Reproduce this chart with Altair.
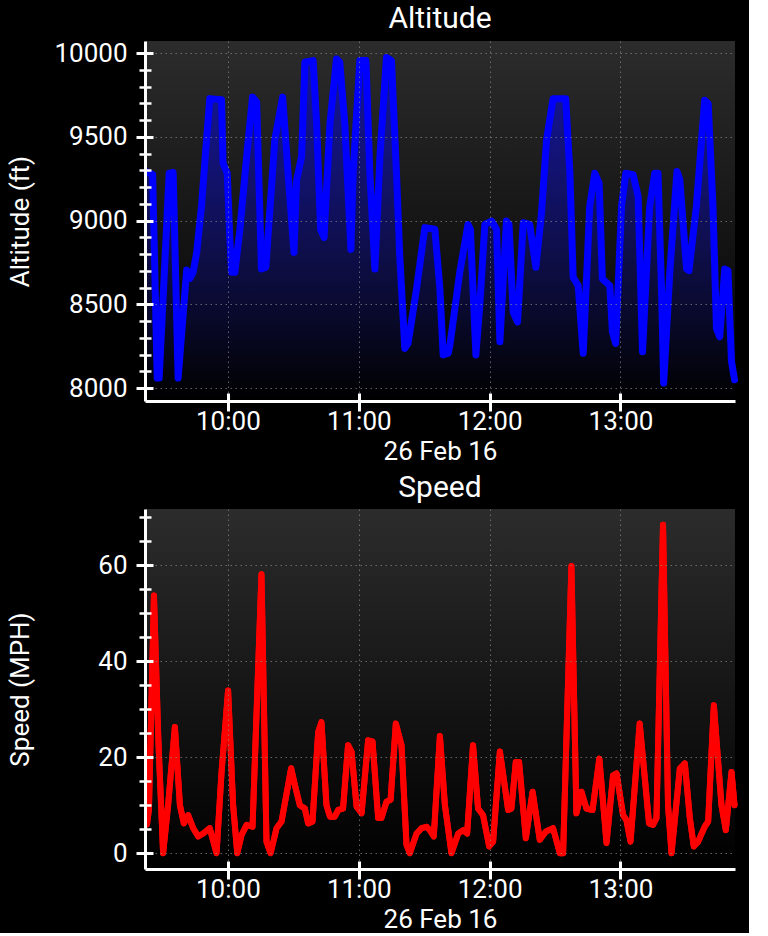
import altair as alt
import pandas as pd

BASE = pd.Timestamp("2016-02-26 10:00:00")

# minutes relative to 10:00 on 26 Feb 2016
ALT_MIN = [-37.0, -34.5, -32.4, -31.5, -26.9, -25.1, -22.8, -18.9, -17.4, -16.0,
           -14.3, -12.1, -9.8, -8.3, -2.9, -2.2, -0.3, 0.9, 1.7, 3.2,
           5.5, 8.6, 11.3, 13.2, 15.4, 17.4, 21.5, 25.1, 27.6, 30.3,
           31.5, 33.8, 35.3, 39.1, 40.7, 42.5, 44.1, 46.8, 49.8, 51.3,
           53.6, 56.4, 57.4, 60.5, 63.3, 65.1, 67.4, 69.7, 72.7, 75.0,
           77.3, 78.8, 81.1, 82.6, 86.5, 90.3, 94.9, 97.2, 98.7, 101.0,
           101.8, 106.3, 110.1, 111.2, 113.7, 115.5, 117.8, 120.9, 123.2, 124.7,
           127.7, 128.9, 130.8, 132.8, 135.4, 138.4, 141.2, 143.8, 146.1, 149.1,
           154.9, 156.8, 158.3, 160.6, 162.9, 165.9, 168.2, 170.2, 171.7, 175.1,
           176.3, 177.8, 180.5, 182.4, 185.8, 188.1, 190.1, 193.4, 195.7, 197.2,
           198.8, 199.8, 202.6, 205.9, 207.2, 210.3, 211.4, 214.8, 218.6, 220.2,
           222.4, 224.0, 225.5, 227.8, 229.3, 230.9, 232.3]
ALT_FT = [9290, 9275, 8060, 8060, 9283, 9287, 8060, 8705, 8655, 8690,
          8810, 9085, 9480, 9728, 9722, 9343, 9283, 8890, 8691, 8691,
          8948, 9382, 9737, 9708, 8711, 8721, 9481, 9737, 9283, 8810,
          9240, 9382, 9945, 9955, 9580, 8948, 8899, 9580, 9965, 9945,
          9580, 8829, 9283, 9955, 9955, 9283, 8711, 9382, 9974, 9955,
          9283, 8790, 8237, 8267, 8593, 8958, 8948, 8593, 8198, 8208,
          8257, 8691, 8977, 8948, 8198, 8494, 8977, 8997, 8948, 8277,
          8997, 8977, 8454, 8395, 8987, 8977, 8721, 9047, 9481, 9728,
          9728, 9283, 8662, 8612, 8208, 9086, 9283, 9224, 8652, 8612,
          8336, 8267, 9086, 9283, 9274, 9145, 8217, 9086, 9283, 9283,
          8593, 8030, 8691, 9293, 9244, 8711, 8701, 9086, 9718, 9698,
          9086, 8356, 8306, 8711, 8701, 8158, 8050]

SPD_MIN = [-37.1, -36.2, -33.9, -31.9, -29.7, -27.4, -24.3, -22.0, -20.2, -18.2,
           -15.9, -13.6, -11.3, -8.3, -5.2, -2.9, 0.1, 2.4, 4.3, 6.3,
           8.6, 11.3, 15.4, 17.7, 19.6, 22.3, 24.6, 29.0, 30.7, 33.0,
           35.3, 36.8, 38.8, 41.4, 42.9, 45.2, 46.8, 49.0, 50.6, 52.8,
           55.1, 56.7, 59.0, 61.3, 64.3, 66.3, 68.9, 70.4, 72.7, 74.6,
           77.0, 79.6, 81.9, 83.4, 86.5, 88.8, 91.1, 92.6, 94.4, 97.2,
           99.5, 102.5, 105.6, 107.9, 109.7, 112.4, 114.7, 117.0, 119.8, 121.6,
           124.7, 128.5, 130.0, 132.0, 133.5, 136.6, 139.7, 143.0, 145.8, 149.1,
           152.2, 153.7, 157.5, 159.8, 162.1, 164.4, 167.2, 170.3, 173.6, 176.6,
           178.2, 181.2, 182.7, 184.6, 188.8, 193.1, 194.9, 196.5, 199.5, 201.8,
           203.4, 207.2, 209.5, 211.8, 213.6, 215.6, 218.6, 220.2, 222.8, 226.3,
           228.3, 230.9, 232.3]
SPD_MPH = [6, 9, 53.7, 23.8, 0, 10, 26.3, 10, 6.2, 7.9,
           5.2, 3.5, 4.1, 5.2, 0, 16.9, 33.9, 10, 0, 3.8,
           5.9, 5.5, 58.1, 2.4, 0, 5.2, 6.6, 17.7, 14.2, 10,
           9.3, 6.2, 6.6, 25.2, 27.3, 10, 7.6, 7.6, 9.0, 9.3,
           22.5, 21.1, 9.7, 8.3, 23.5, 23.3, 7.3, 7.3, 10.7, 11.1,
           27, 22.5, 1.7, 0, 4.1, 5.2, 5.5, 4.8, 3.5, 24.4,
           10, 0, 4.1, 4.8, 4.1, 22.5, 9.3, 7.9, 1.4, 2.4,
           21.2, 9.0, 9.3, 19, 19, 3.1, 12.8, 2.8, 4.5, 5.2,
           0, 0, 59.8, 8.3, 12.8, 9.3, 9.0, 19.7, 2.1, 16.2,
           16.6, 7.9, 6.9, 2.4, 27, 6.2, 5.9, 7.3, 68.4, 10,
           0, 17.6, 18.7, 7.3, 1.4, 2.4, 5.5, 6.6, 30.8, 10,
           4.8, 16.9, 10]

X_RANGE_MIN = [-38.0, 232.5]
ALT_DOMAIN = [7923, 10072]
SPD_DOMAIN = [-3.3, 71.7]
ALT_MAJOR = [8000, 8500, 9000, 9500, 10000]
ALT_MINOR = list(range(8000, 10001, 100))
SPD_MAJOR = [0, 20, 40, 60]
SPD_MINOR = list(range(0, 71, 5))
HOURS = [10, 11, 12, 13]

W, H = 590, 360
FONT = "Roboto"


def to_dt(ts):
    return alt.DateTime(year=ts.year, month=ts.month, date=ts.day,
                        hours=ts.hour, minutes=ts.minute, seconds=ts.second)


t_start = BASE + pd.Timedelta(minutes=X_RANGE_MIN[0])
t_end = BASE + pd.Timedelta(minutes=X_RANGE_MIN[1])
XDOM = [to_dt(t_start), to_dt(t_end)]
HOUR_VALUES = [alt.DateTime(year=2016, month=2, date=26, hours=h) for h in HOURS]

BG_GRAD = alt.LinearGradient(
    gradient="linear", x1=0, x2=0, y1=0, y2=1,
    stops=[alt.GradientStop(color="#2c2c2c", offset=0),
           alt.GradientStop(color="#000000", offset=1)])
AREA_GRAD = alt.LinearGradient(
    gradient="linear", x1=0, x2=0, y1=0, y2=1,
    stops=[alt.GradientStop(color="rgba(0,0,255,0.55)", offset=0),
           alt.GradientStop(color="rgba(0,0,255,0)", offset=1)])

GRID = dict(grid=True, gridColor="#8a8a8a", gridOpacity=0.7, gridWidth=1,
            gridDash=[1.5, 3.5])


def panel(mins, vals, ytitle, ydomain, majors, minors, color, sw, title, fill):
    df = pd.DataFrame({"t": [BASE + pd.Timedelta(minutes=m) for m in mins],
                       "v": vals})
    bg_df = pd.DataFrame({"x0": [t_start], "x1": [t_end],
                          "y0": [ydomain[0]], "y1": [ydomain[1]]})
    xs = alt.Scale(domain=XDOM, nice=False)
    ys = alt.Scale(domain=ydomain, nice=False, zero=False)

    frame_x = alt.Axis(orient="bottom", values=HOUR_VALUES, domain=True,
                       domainColor="white", domainWidth=3, ticks=False,
                       labels=False, title=None, zindex=1, **GRID)
    frame_y = alt.Axis(orient="left", values=majors, domain=True,
                       domainColor="white", domainWidth=3, ticks=False,
                       labels=False, title=None, zindex=1, **GRID)
    bg = alt.Chart(bg_df).mark_rect(fill=BG_GRAD).encode(
        x=alt.X("x0:T", scale=xs, axis=frame_x),
        x2="x1:T",
        y=alt.Y("y1:Q", scale=ys, axis=frame_y),
        y2="y0:Q",
    )

    major_x = alt.Axis(orient="bottom", values=HOUR_VALUES, offset=-8,
                       domain=False, grid=False, tickSize=18, tickWidth=3,
                       tickColor="white", labelColor="white", labelFont=FONT,
                       labelFontSize=26, labelPadding=-3, format="%H:%M",
                       title="26 Feb 16", titleColor="white", titleFont=FONT,
                       titleFontSize=26, titleFontWeight="normal",
                       titlePadding=4, zindex=1)
    major_y = alt.Axis(orient="left", values=majors, offset=-8, domain=False,
                       grid=False, tickSize=17, tickWidth=3, tickColor="white",
                       labelColor="white", labelFont=FONT, labelFontSize=26,
                       labelPadding=9, format="d", title=ytitle,
                       titleColor="white",
                       titleFont=FONT, titleFontSize=26,
                       titleFontWeight="normal", titleAngle=270,
                       titleBaseline="middle", titleAlign="center",
                       titleX=-133, titleY=H / 2, zindex=1)
    minor_y = alt.Axis(orient="left", values=minors, offset=-6, domain=False,
                       grid=False, labels=False, tickSize=12, tickWidth=2.5,
                       tickColor="white", title=None, zindex=1)

    line_mark = dict(color=color, strokeWidth=sw, strokeJoin="round",
                     strokeCap="round")
    if fill:
        mid = alt.Chart(df).mark_area(fill=AREA_GRAD, clip=True).encode(
            x=alt.X("t:T", scale=xs, axis=None),
            y=alt.Y("v:Q", scale=ys, axis=minor_y),
            y2=alt.datum(ydomain[0]),
        )
    else:
        mid = alt.Chart(df).mark_line(**line_mark).encode(
            x=alt.X("t:T", scale=xs, axis=None),
            y=alt.Y("v:Q", scale=ys, axis=minor_y),
        )
    line = alt.Chart(df).mark_line(**line_mark).encode(
        x=alt.X("t:T", scale=xs, axis=major_x),
        y=alt.Y("v:Q", scale=ys, axis=major_y),
    )
    return alt.layer(bg, mid, line).resolve_axis(
        x="independent", y="independent"
    ).properties(
        width=W, height=H,
        title=alt.TitleParams(title, font=FONT, fontSize=30, color="white",
                              fontWeight="normal", anchor="middle", offset=6),
    )


top = panel(ALT_MIN, ALT_FT, "Altitude (ft)", ALT_DOMAIN, ALT_MAJOR, ALT_MINOR,
            "#0000ff", 7, "Altitude", True)
bottom = panel(SPD_MIN, SPD_MPH, "Speed (MPH)", SPD_DOMAIN, SPD_MAJOR, SPD_MINOR,
               "#ff0000", 6, "Speed", False)

chart = alt.vconcat(top, bottom, spacing=9).configure(
    background="#000000",
    padding={"left": 7, "top": 4, "right": 10, "bottom": 1},
).configure_view(stroke=None)

chart.save("out.html", embed_options={"renderer": "svg", "actions": False})
